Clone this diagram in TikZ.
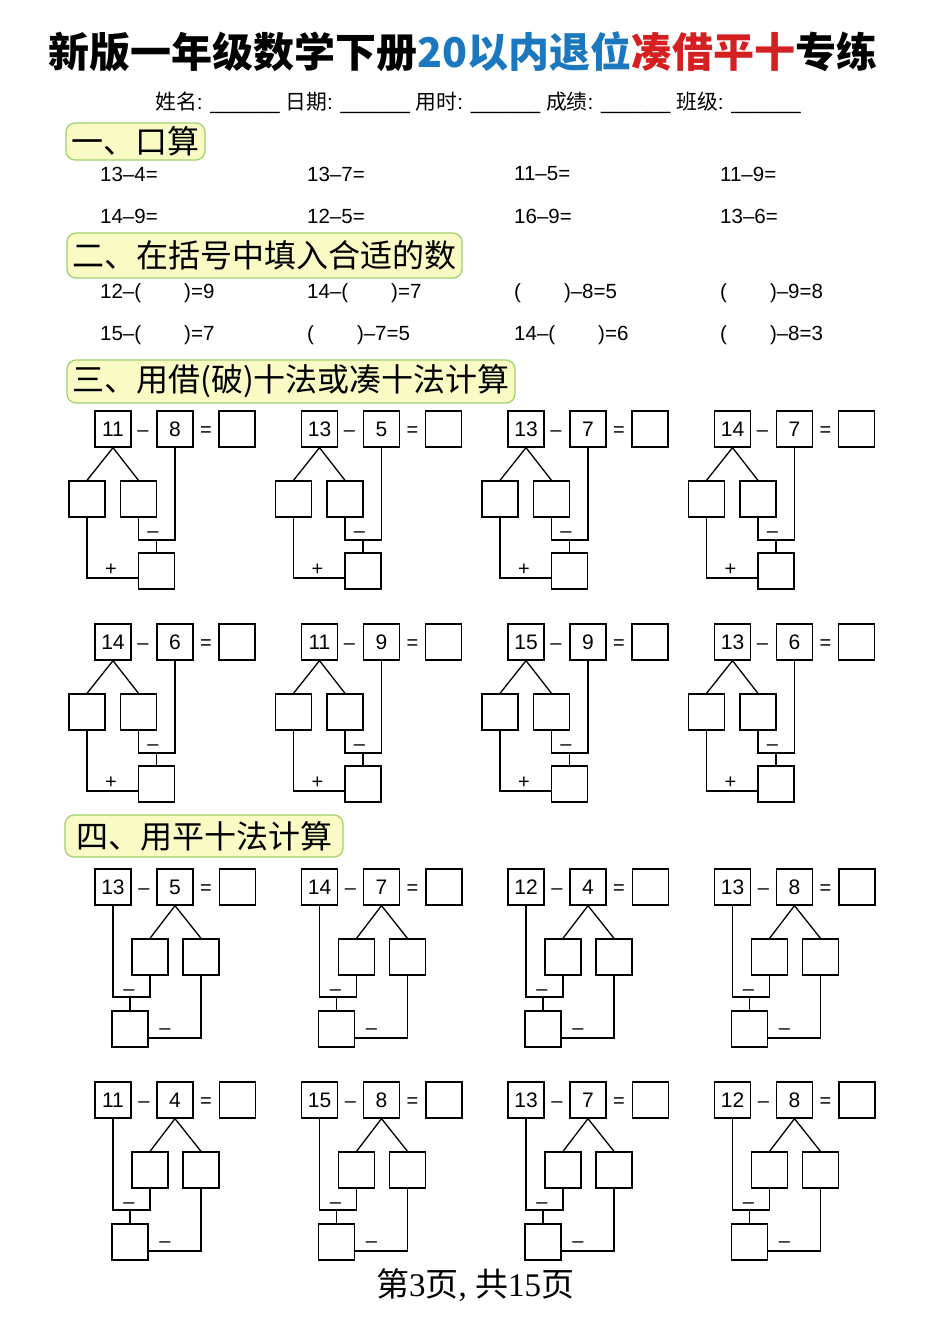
\documentclass[tikz,border=0pt]{standalone}
\usepackage{fontspec}
\setmainfont{Liberation Sans}
\newfontfamily\cjk{Noto Sans CJK SC}
\newfontfamily\serifdig{Liberation Serif}
\definecolor{tblue}{RGB}{28,120,190}
\definecolor{tred}{RGB}{212,32,32}
\definecolor{hdrgreen}{RGB}{160,210,110}
\definecolor{hdryellow}{RGB}{250,250,196}
\newcommand\gapp{\hspace{43pt}}
% borrow-ten unit (section 3)
\newcommand\borrowunit[5]{%
  \node[nbox] (#1-a) at ({#2+18},{#3+18}) {#4};
  \node[sym]  (#1-m) at ({#2+48},{#3+18}) {–};
  \node[nbox] (#1-b) at ({#2+80},{#3+18}) {#5};
  \node[sym]  (#1-e) at ({#2+111},{#3+18}) {=};
  \node[nbox] (#1-r) at ({#2+142},{#3+18}) {};
  \node[nbox] (#1-l) at ({#2-8},{#3+88}) {};
  \node[nbox] (#1-k) at ({#2+43.5},{#3+88}) {};
  \node[nbox] (#1-s) at ({#2+61.5},{#3+160}) {};
  \coordinate (#1-j) at ({#2+61.5},{#3+129});
  \draw[conn] (#1-l.north) -- (#1-a.south) -- (#1-k.north);
  \draw[conn] (#1-k.south) |- (#1-j) -| (#1-b.south);
  \draw[conn] (#1-j) -- (#1-s.north);
  \draw[conn] (#1-l.south) |- ([yshift=-7pt]#1-s.west);
  \node[sym] (#1-ml) at ({#2+58},{#3+119}) {–};
  \node[sym] (#1-pl) at ({#2+16},{#3+157}) {+};
}
% flat-ten unit (section 4)
\newcommand\flatunit[5]{%
  \node[nbox] (#1-a) at ({#2+18},{#3+18}) {#4};
  \node[sym]  (#1-m) at ({#2+49},{#3+18}) {–};
  \node[nbox] (#1-b) at ({#2+80},{#3+18}) {#5};
  \node[sym]  (#1-e) at ({#2+111},{#3+18}) {=};
  \node[nbox] (#1-r) at ({#2+142.5},{#3+18}) {};
  \node[nbox] (#1-l) at ({#2+55},{#3+88}) {};
  \node[nbox] (#1-k) at ({#2+106},{#3+88}) {};
  \node[nbox] (#1-s) at ({#2+35},{#3+160}) {};
  \coordinate (#1-j) at ({#2+35},{#3+128});
  \draw[conn] (#1-l.north) -- (#1-b.south) -- (#1-k.north);
  \draw[conn] (#1-a.south) |- (#1-j) -| (#1-l.south);
  \draw[conn] (#1-j) -- (#1-s.north);
  \draw[conn] (#1-k.south) |- ([yshift=-9pt]#1-s.east);
  \node[sym] (#1-ml) at ({#2+34},{#3+119}) {–};
  \node[sym] (#1-m2) at ({#2+70},{#3+158}) {–};
}
\begin{document}
\begin{tikzpicture}[x=1pt,y=-1pt,
  nbox/.style={draw, line width=1.3pt, minimum size=36pt, inner sep=0pt, font=\fontsize{21}{21}\selectfont},
  sym/.style={inner sep=0pt, text height=14.5pt, text depth=0pt, font=\fontsize{20}{20}\selectfont},
  conn/.style={line width=1.3pt},
  hdr/.style={draw=hdrgreen, fill=hdryellow, rounded corners=9pt, line width=1.3pt, inner sep=0pt, font=\cjk\fontsize{32}{32}\selectfont},
  exer/.style={anchor=west, inner sep=0pt, font=\fontsize{20.5}{20.5}\selectfont}]
\useasboundingbox (0,0) rectangle (950,1344);
\fill[white] (0,0) rectangle (950,1344);

% title
\node (title) at (463,52) {\cjk\bfseries\fontsize{41}{41}\selectfont 新版一年级数学下册\textcolor{tblue}{20以内退位}\textcolor{tred}{凑借平十}专练};
\node (info) at (478,103) {\fontsize{20.8}{20.8}\selectfont {\cjk 姓名}: \_\_\_\_\_\_ {\cjk 日期}: \_\_\_\_\_\_ {\cjk 用时}: \_\_\_\_\_\_ {\cjk 成绩}: \_\_\_\_\_\_ {\cjk 班级}: \_\_\_\_\_\_};

% section 1
\node[hdr, minimum width=139pt, minimum height=37pt] (h1) at (135.5,141.5) {一、口算};
\node[exer] (e11) at (100,174) {13–4=};
\node[exer] (e12) at (307,174) {13–7=};
\node[exer] (e13) at (514,174) {11–5=};
\node[exer] (e14) at (720,174) {11–9=};
\node[exer] (e15) at (100,216) {14–9=};
\node[exer] (e16) at (307,216) {12–5=};
\node[exer] (e17) at (514,216) {16–9=};
\node[exer] (e18) at (720,216) {13–6=};

% section 2
\node[hdr, minimum width=395pt, minimum height=45pt] (h2) at (264.5,255.5) {二、在括号中填入合适的数};
\node[exer] (f11) at (100,293) {12–(\gapp)=9};
\node[exer] (f12) at (307,293) {14–(\gapp)=7};
\node[exer] (f13) at (514,293) {(\gapp)–8=5};
\node[exer] (f14) at (720,293) {(\gapp)–9=8};
\node[exer] (f15) at (100,335) {15–(\gapp)=7};
\node[exer] (f16) at (307,335) {(\gapp)–7=5};
\node[exer] (f17) at (514,335) {14–(\gapp)=6};
\node[exer] (f18) at (720,335) {(\gapp)–8=3};

% section 3
\node[hdr, minimum width=448pt, minimum height=43pt] (h3) at (291,381.5) {三、用借(破)十法或凑十法计算};
\foreach \a/\b [count=\i from 0] in {11/8,13/5,13/7,14/7} {\borrowunit{pa\i}{95+206.5*\i}{411}{\a}{\b}}
\foreach \a/\b [count=\i from 0] in {14/6,11/9,15/9,13/6} {\borrowunit{pb\i}{95+206.5*\i}{624}{\a}{\b}}

% section 4
\node[hdr, minimum width=278pt, minimum height=42pt] (h4) at (204,836) {四、用平十法计算};
\foreach \a/\b [count=\i from 0] in {13/5,14/7,12/4,13/8} {\flatunit{qa\i}{95+206.5*\i}{869}{\a}{\b}}
\foreach \a/\b [count=\i from 0] in {11/4,15/8,13/7,12/8} {\flatunit{qb\i}{95+206.5*\i}{1082}{\a}{\b}}

% footer
\node (foot) at (475,1285) {\fontsize{33}{33}\selectfont\serifdig{\cjk 第}3{\cjk 页}, {\cjk 共}15{\cjk 页}};
\end{tikzpicture}
\end{document}
